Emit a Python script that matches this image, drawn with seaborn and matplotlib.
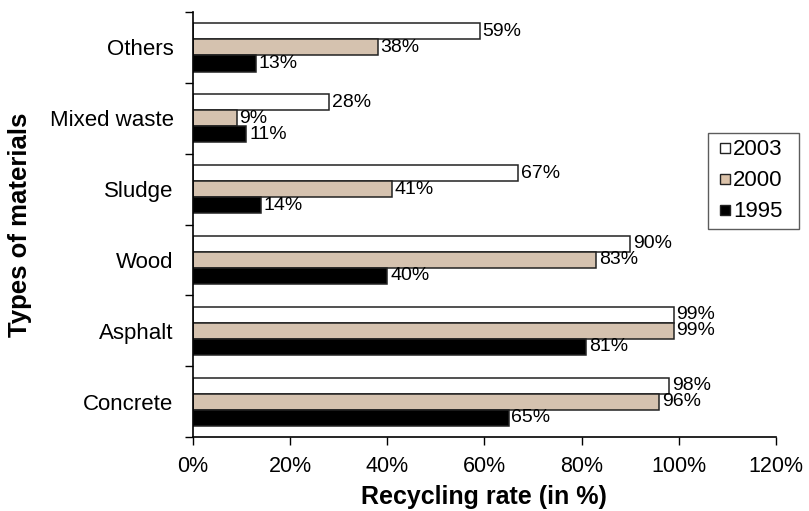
import matplotlib
matplotlib.use("Agg")
import matplotlib.pyplot as plt
import seaborn as sns
import pandas as pd
from matplotlib.lines import Line2D
from matplotlib.ticker import FixedLocator

materials = ["Others", "Mixed waste", "Sludge", "Wood", "Asphalt", "Concrete"]
years = ["2003", "2000", "1995"]
rate_2003 = [59, 28, 67, 90, 99, 98]
rate_2000 = [38, 9, 41, 83, 99, 96]
rate_1995 = [13, 11, 14, 40, 81, 65]

colors = {"2003": "#ffffff", "2000": "#dbc2a9", "1995": "#000000"}

df = pd.DataFrame({
    "material": materials * 3,
    "year": ["2003"] * 6 + ["2000"] * 6 + ["1995"] * 6,
    "rate": rate_2003 + rate_2000 + rate_1995,
})

sns.set_style("white")
plt.rcParams["font.family"] = ["Liberation Sans", "DejaVu Sans"]
plt.rcParams["text.color"] = "black"
plt.rcParams["xtick.color"] = "black"
plt.rcParams["ytick.color"] = "black"
plt.rcParams["axes.labelcolor"] = "black"

fig = plt.figure(figsize=(8.09, 5.11), dpi=100)
ax = fig.add_axes([0.2386, 0.1448, 0.7204, 0.8317])

sns.barplot(data=df, y="material", x="rate", hue="year", order=materials,
            hue_order=years, palette=colors, orient="h", width=0.68,
            edgecolor="#222222", linewidth=1.1, legend=False, ax=ax)

# value labels at bar ends
for cont in ax.containers:
    ax.bar_label(cont, labels=[f"{int(v)}%" for v in cont.datavalues],
                 padding=2, fontsize=14, color="black")

ax.set_xlim(0, 120)
ax.set_ylim(5.5, -0.5)
ax.set_xticks(range(0, 121, 20))
ax.set_xticklabels([f"{t}%" for t in range(0, 121, 20)], fontsize=15.5)
ax.tick_params(axis="x", direction="out", length=6, width=1, pad=8, bottom=True)
ax.tick_params(axis="y", which="major", length=0, labelsize=16, pad=14)
# y ticks sit between the category groups
ax.yaxis.set_minor_locator(FixedLocator([i - 0.5 for i in range(7)]))
ax.tick_params(axis="y", which="minor", direction="out", length=6, width=1, left=True)

sns.despine(ax=ax)
for s in ["left", "bottom"]:
    ax.spines[s].set_color("black")
    ax.spines[s].set_linewidth(1.2)

ax.set_xlabel("Recycling rate (in %)", fontsize=18, fontweight="bold")
ax.set_ylabel("Types of materials", fontsize=18.5, fontweight="bold")
ax.xaxis.set_label_coords(0.5, -0.112)
ax.yaxis.set_label_coords(-0.276, 0.5)

handles = [Line2D([], [], linestyle="None", marker="s", markersize=7,
                  markerfacecolor=colors[y], markeredgecolor="#222222",
                  markeredgewidth=1.0, label=y)
           for y in years]
ax.legend(handles=handles, loc="upper left",
          bbox_to_anchor=(0.883, 0.489, 0.156, 0.226), mode="expand",
          borderaxespad=0, fontsize=16, frameon=True, fancybox=False,
          edgecolor="#333333", handlelength=1.0, handletextpad=-0.15,
          labelspacing=0.45, borderpad=0.28)

fig.savefig("out.png", dpi=100)
